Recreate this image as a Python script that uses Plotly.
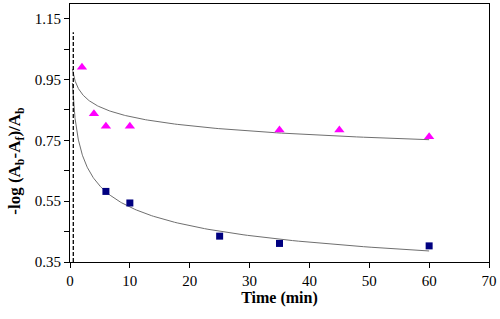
import numpy as np
import plotly.graph_objects as go

# Data
tri_x = [2, 4, 6, 10, 35, 45, 60]
tri_y = [0.99, 0.837, 0.796, 0.796, 0.784, 0.784, 0.762]
sq_x = [6, 10, 25, 35, 60]
sq_y = [0.582, 0.544, 0.435, 0.411, 0.403]
x_ticks = [0, 10, 20, 30, 40, 50, 60, 70]
y_ticks = [0.35, 0.45, 0.55, 0.65, 0.75, 0.85, 0.95, 1.05, 1.15]
y_labels = ["0.35", "", "0.55", "", "0.75", "", "0.95", "", "1.15"]
dash_x = 0.55
dash_y = [0.35, 1.105]
trend_start = 0.4
trend_end = 60
y_title = "<b>-log (A<sub>b</sub>-A<sub>f</sub>)/A<sub>b</sub></b>"


def power_fit(x, y):
    b, lna = np.polyfit(np.log(x), np.log(y), 1)
    return np.exp(lna), b


xs = np.linspace(np.log(trend_start), np.log(trend_end), 200)
xs = np.exp(xs)

fig = go.Figure()
for xd, yd in [(tri_x, tri_y), (sq_x, sq_y)]:
    a, b = power_fit(xd, yd)
    fig.add_trace(go.Scatter(x=xs, y=a * xs ** b, mode="lines",
                             line=dict(color="#6f6f6f", width=1),
                             showlegend=False, hoverinfo="skip"))

fig.add_trace(go.Scatter(x=[dash_x, dash_x], y=dash_y, mode="lines",
                         line=dict(color="black", width=1.3, dash="4px,2px"),
                         showlegend=False))
fig.add_trace(go.Scatter(x=tri_x, y=tri_y, mode="markers",
                         marker=dict(symbol="triangle-up", color="#FF00FF", size=9),
                         showlegend=False))
fig.add_trace(go.Scatter(x=sq_x, y=sq_y, mode="markers",
                         marker=dict(symbol="square", color="#000080", size=7),
                         showlegend=False))

font = dict(family="Liberation Serif", size=15, color="black")
title_font = dict(family="Liberation Serif", size=16, color="black")
ytitle_font = dict(family="Liberation Serif", size=17, color="black")
fig.update_layout(
    width=500, height=319,
    margin=dict(l=70, r=9, t=3, b=57),
    paper_bgcolor="white", plot_bgcolor="white",
    font=font,
    xaxis=dict(range=[0, 70], tickvals=x_ticks, ticks="outside", ticklen=5,
               tickcolor="black", showline=True, linecolor="black", linewidth=1,
               mirror=True, showgrid=False, zeroline=False, tickfont=font,
               ticklabeloverflow="allow",
               title=dict(text="<b>Time (min)</b>", font=title_font, standoff=3)),
    yaxis=dict(range=[0.35, 1.198], tickvals=y_ticks, ticktext=y_labels,
               ticks="outside", ticklen=5, tickcolor="black", showline=True,
               linecolor="black", linewidth=1, mirror=True, showgrid=False,
               zeroline=False, tickfont=font),
    annotations=[dict(text=y_title, textangle=-90, font=ytitle_font,
                      xref="paper", yref="paper", x=-0.128, y=0.394,
                      xanchor="center", yanchor="middle", showarrow=False)],
)
fig.write_html("out.html", config={"displayModeBar": False},
               post_script="document.body.style.margin='0';")
